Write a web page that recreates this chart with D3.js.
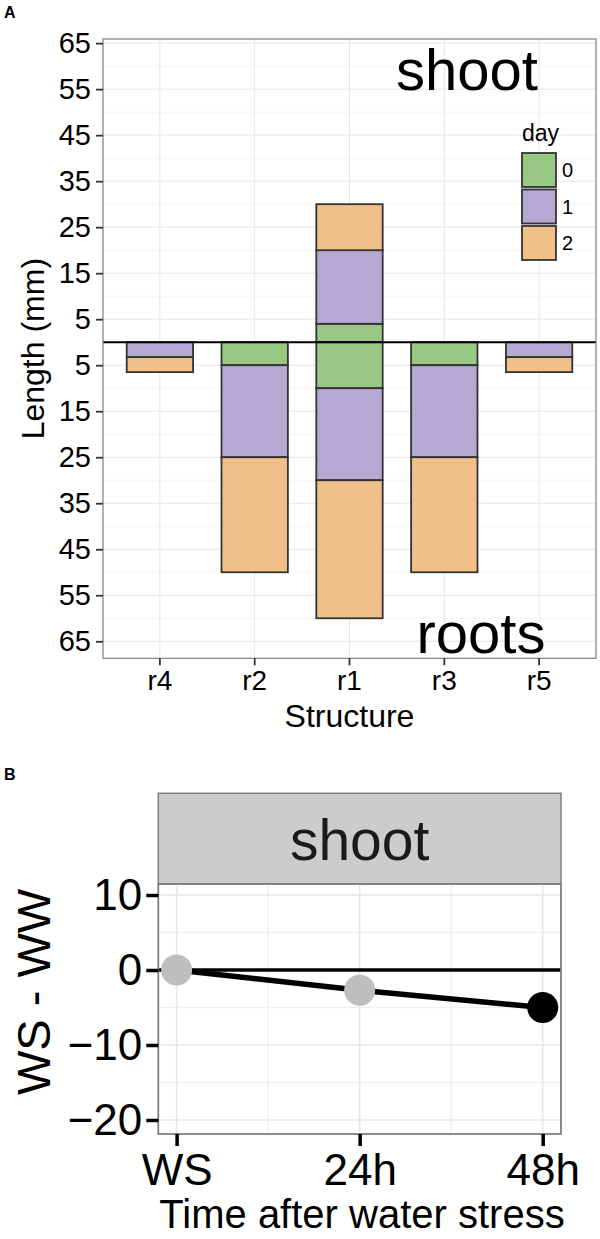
<!DOCTYPE html>
<html>
<head>
<meta charset="utf-8">
<script src="https://cdn.jsdelivr.net/npm/d3@7"></script>
<style>
  body { margin: 0; background: #fff; }
  svg { display: block; font-family: "Liberation Sans", Arial, Helvetica, sans-serif; }
</style>
</head>
<body>
<svg id="chart" width="600" height="1239"></svg>
<script>
// panel A data: length (mm) gained per day, shoot above / roots below
const structures = ["r4", "r2", "r1", "r3", "r5"];
const days = ["0", "1", "2"];
const shootDay0 = [0, 0, 4, 0, 0];
const shootDay1 = [0, 0, 16, 0, 0];
const shootDay2 = [0, 0, 10, 0, 0];
const rootDay0 = [0, 5, 10, 5, 0];
const rootDay1 = [3.25, 20, 20, 20, 3.25];
const rootDay2 = [3.25, 25, 30, 25, 3.25];
const lengthTicks = [-65, -55, -45, -35, -25, -15, -5, 5, 15, 25, 35, 45, 55, 65];
const lengthMinor = [-60, -50, -40, -30, -20, -10, 0, 10, 20, 30, 40, 50, 60];

// panel B data: WS - WW for the shoot
const hours = [0, 24, 48];
const hourLabels = ["WS", "24h", "48h"];
const wsMinusWw = [0, -2.7, -5];
const significant = [false, false, true];
const diffTicks = [10, 0, -10, -20];
const diffMinor = [5, -5, -15];
const hourMinor = [12, 36];

const svg = d3.select("#chart");
const dayColor = d3.scaleOrdinal().domain(days).range(["#98c883", "#b5a9d3", "#efc088"]);

// build tables for stacking
function toTable(d0, d1, d2, sign) {
  return structures.map((s, i) => ({ structure: s, "0": sign * d0[i], "1": sign * d1[i], "2": sign * d2[i] }));
}
const shootTable = toTable(shootDay0, shootDay1, shootDay2, 1);
const rootTable = toTable(rootDay0, rootDay1, rootDay2, -1);
const stack = d3.stack().keys(days).offset(d3.stackOffsetDiverging);

// ---------------- panel A ----------------
const A = { left: 103, right: 596, top: 39, bottom: 658.3 };
const x = d3.scaleBand().domain(structures).range([A.left, A.right]).paddingInner(0.3).paddingOuter(0.25);
const y = d3.scaleLinear().domain([-68.7, 65.9]).range([A.bottom, A.top]);

const gA = svg.append("g");
gA.append("rect").attr("x", A.left).attr("y", A.top)
  .attr("width", A.right - A.left).attr("height", A.bottom - A.top).attr("fill", "#fff");

gA.selectAll("line.minor").data(lengthMinor).join("line").attr("class", "minor")
  .attr("x1", A.left).attr("x2", A.right).attr("y1", d => y(d)).attr("y2", d => y(d))
  .attr("stroke", "#f2f2f2").attr("stroke-width", 0.8);
gA.selectAll("line.hmajor").data(lengthTicks).join("line").attr("class", "hmajor")
  .attr("x1", A.left).attr("x2", A.right).attr("y1", d => y(d)).attr("y2", d => y(d))
  .attr("stroke", "#e6e6e6").attr("stroke-width", 1);
gA.selectAll("line.vmajor").data(structures).join("line").attr("class", "vmajor")
  .attr("y1", A.top).attr("y2", A.bottom)
  .attr("x1", d => x(d) + x.bandwidth() / 2).attr("x2", d => x(d) + x.bandwidth() / 2)
  .attr("stroke", "#e6e6e6").attr("stroke-width", 1);

// stacked bars
[stack(shootTable), stack(rootTable)].forEach(series => {
  series.forEach(layer => {
    gA.append("g").selectAll("rect")
      .data(layer.filter(d => d[1] - d[0] !== 0))
      .join("rect")
      .attr("x", d => x(d.data.structure))
      .attr("width", x.bandwidth())
      .attr("y", d => y(Math.max(d[0], d[1])))
      .attr("height", d => Math.abs(y(d[0]) - y(d[1])))
      .attr("fill", dayColor(layer.key))
      .attr("stroke", "#333")
      .attr("stroke-width", 1.8);
  });
});

// zero line
gA.append("line").attr("x1", A.left).attr("x2", A.right)
  .attr("y1", y(0)).attr("y2", y(0)).attr("stroke", "#000").attr("stroke-width", 2);

gA.append("text").attr("x", 467).attr("y", 90).attr("text-anchor", "middle")
  .attr("font-size", 58).attr("fill", "#000").text("shoot");
gA.append("text").attr("x", 481).attr("y", 653).attr("text-anchor", "middle")
  .attr("font-size", 58).attr("fill", "#000").text("roots");

// legend
const lg = gA.append("g").attr("transform", "translate(522,153)");
lg.append("text").attr("x", 0).attr("y", -12).attr("font-size", 23).text("day");
lg.selectAll("rect").data(days).join("rect")
  .attr("x", 0).attr("y", (d, i) => i * 36.5).attr("width", 34).attr("height", 34)
  .attr("fill", d => dayColor(d)).attr("stroke", "#333").attr("stroke-width", 1.8);
lg.selectAll("text.lab").data(days).join("text").attr("class", "lab")
  .attr("x", 40).attr("y", (d, i) => i * 36.5 + 17).attr("dy", "0.36em")
  .attr("font-size", 20).text(d => d);

gA.append("rect").attr("x", A.left).attr("y", A.top)
  .attr("width", A.right - A.left).attr("height", A.bottom - A.top)
  .attr("fill", "none").attr("stroke", "#7f7f7f").attr("stroke-width", 1.2);

// axes A
const yAxisA = gA.append("g").attr("transform", `translate(${A.left},0)`)
  .call(d3.axisLeft(y).tickValues(lengthTicks).tickFormat(d => Math.abs(d)).tickSize(7).tickPadding(5));
const xAxisA = gA.append("g").attr("transform", `translate(0,${A.bottom})`)
  .call(d3.axisBottom(x).tickSize(7).tickPadding(5));
[yAxisA, xAxisA].forEach(ax => {
  ax.select(".domain").remove();
  ax.selectAll(".tick line").attr("stroke", "#333").attr("stroke-width", 1.8);
  ax.selectAll(".tick text").attr("fill", "#000").attr("font-size", 28);
});
yAxisA.selectAll(".tick text").attr("font-size", 29);

gA.append("text").attr("transform", `translate(44,${(A.top + A.bottom) / 2}) rotate(-90)`)
  .attr("text-anchor", "middle").attr("font-size", 32).text("Length (mm)");
gA.append("text").attr("x", (A.left + A.right) / 2).attr("y", 727)
  .attr("text-anchor", "middle").attr("font-size", 32).text("Structure");
svg.append("text").attr("x", 4).attr("y", 18).attr("font-size", 16).attr("font-weight", "bold").text("A");

// ---------------- panel B ----------------
const B = { left: 158.3, right: 561, top: 884, bottom: 1134, stripTop: 793.3 };
const xB = d3.scaleLinear().domain([-2.4, 50.4]).range([B.left, B.right]);
const yB = d3.scaleLinear().domain([-21.87, 11.47]).range([B.bottom, B.top]);
const gB = svg.append("g");

gB.append("rect").attr("x", B.left).attr("y", B.stripTop)
  .attr("width", B.right - B.left).attr("height", B.top - B.stripTop)
  .attr("fill", "#cccccc").attr("stroke", "#7f7f7f").attr("stroke-width", 1.5);
gB.append("text").attr("x", (B.left + B.right) / 2).attr("y", 860)
  .attr("text-anchor", "middle").attr("font-size", 57).attr("fill", "#1a1a1a").text("shoot");

gB.selectAll("line.hminor").data(diffMinor).join("line").attr("class", "hminor")
  .attr("x1", B.left).attr("x2", B.right).attr("y1", d => yB(d)).attr("y2", d => yB(d))
  .attr("stroke", "#f0f0f0").attr("stroke-width", 1.5);
gB.selectAll("line.vminor").data(hourMinor).join("line").attr("class", "vminor")
  .attr("y1", B.top).attr("y2", B.bottom).attr("x1", d => xB(d)).attr("x2", d => xB(d))
  .attr("stroke", "#f0f0f0").attr("stroke-width", 1.5);
gB.selectAll("line.hmajor").data(diffTicks).join("line").attr("class", "hmajor")
  .attr("x1", B.left).attr("x2", B.right).attr("y1", d => yB(d)).attr("y2", d => yB(d))
  .attr("stroke", "#e6e6e6").attr("stroke-width", 1.5);
gB.selectAll("line.vmajor").data(hours).join("line").attr("class", "vmajor")
  .attr("y1", B.top).attr("y2", B.bottom).attr("x1", d => xB(d)).attr("x2", d => xB(d))
  .attr("stroke", "#e6e6e6").attr("stroke-width", 1.5);

gB.append("line").attr("x1", B.left).attr("x2", B.right)
  .attr("y1", yB(0)).attr("y2", yB(0)).attr("stroke", "#000").attr("stroke-width", 3.5);

const pts = hours.map((h, i) => ({ h, v: wsMinusWw[i], sig: significant[i] }));
gB.append("path").datum(pts)
  .attr("d", d3.line().x(d => xB(d.h)).y(d => yB(d.v)))
  .attr("fill", "none").attr("stroke", "#000").attr("stroke-width", 5.5);
gB.selectAll("circle").data(pts).join("circle")
  .attr("cx", d => xB(d.h)).attr("cy", d => yB(d.v)).attr("r", 15.5)
  .attr("fill", d => d.sig ? "#000" : "#bebebe");

gB.append("rect").attr("x", B.left).attr("y", B.top)
  .attr("width", B.right - B.left).attr("height", B.bottom - B.top)
  .attr("fill", "none").attr("stroke", "#7f7f7f").attr("stroke-width", 1.8);

const yAxisB = gB.append("g").attr("transform", `translate(${B.left},0)`)
  .call(d3.axisLeft(yB).tickValues(diffTicks).tickFormat(d => d < 0 ? "\u2212" + Math.abs(d) : d).tickSize(12).tickPadding(4));
const xAxisB = gB.append("g").attr("transform", `translate(0,${B.bottom})`)
  .call(d3.axisBottom(xB).tickValues(hours).tickFormat((d, i) => hourLabels[i]).tickSize(12).tickPadding(8));
[yAxisB, xAxisB].forEach(ax => {
  ax.select(".domain").remove();
  ax.selectAll(".tick line").attr("stroke", "#000").attr("stroke-width", 3.5);
  ax.selectAll(".tick text").attr("fill", "#000").attr("font-size", 44);
});

gB.append("text").attr("transform", "translate(50,992) rotate(-90)")
  .attr("text-anchor", "middle").attr("font-size", 47).text("WS - WW");
gB.append("text").attr("x", 362).attr("y", 1228)
  .attr("text-anchor", "middle").attr("font-size", 40).text("Time after water stress");
svg.append("text").attr("x", 4).attr("y", 780).attr("font-size", 16).attr("font-weight", "bold").text("B");
</script>
</body>
</html>
